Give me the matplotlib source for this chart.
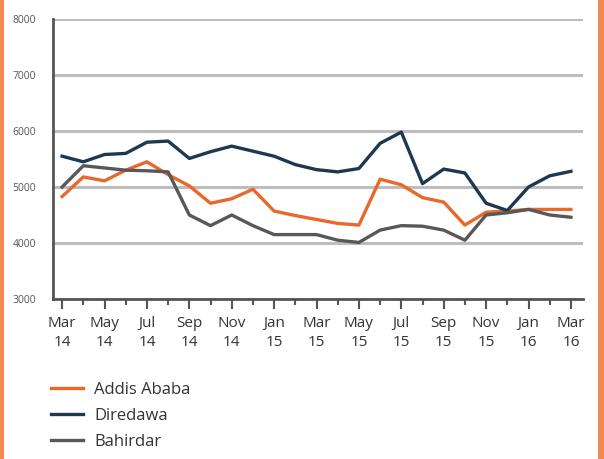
import matplotlib
matplotlib.use("Agg")
import matplotlib.pyplot as plt
from matplotlib.patches import Rectangle
from matplotlib.ticker import FixedLocator

plt.rcParams['font.family'] = ['Open Sans', 'DejaVu Sans']

months = ["Mar\n14", "Apr\n14", "May\n14", "Jun\n14", "Jul\n14", "Aug\n14", "Sep\n14",
          "Oct\n14", "Nov\n14", "Dec\n14", "Jan\n15", "Feb\n15", "Mar\n15", "Apr\n15",
          "May\n15", "Jun\n15", "Jul\n15", "Aug\n15", "Sep\n15", "Oct\n15", "Nov\n15",
          "Dec\n15", "Jan\n16", "Feb\n16", "Mar\n16"]

addis_ababa = [4830, 5180, 5110, 5300, 5450, 5220, 5020, 4710, 4790, 4960, 4570, 4490,
               4420, 4350, 4320, 5140, 5040, 4810, 4730, 4320, 4550, 4570, 4600, 4600, 4600]
diredawa = [5550, 5450, 5580, 5600, 5800, 5820, 5510, 5630, 5730, 5640, 5550, 5400,
            5310, 5270, 5330, 5780, 5980, 5060, 5320, 5250, 4710, 4580, 5000, 5200, 5280]
bahirdar = [5000, 5380, 5340, 5300, 5290, 5270, 4500, 4310, 4500, 4310, 4150, 4150,
            4150, 4050, 4010, 4230, 4310, 4300, 4230, 4050, 4500, 4540, 4600, 4500, 4460]

series = [("Addis Ababa", addis_ababa, "#e8692b"),
          ("Diredawa", diredawa, "#1e3850"),
          ("Bahirdar", bahirdar, "#585858")]

W, H = 604, 459
fig = plt.figure(figsize=(W / 100, H / 100), dpi=100)
fig.patch.set_facecolor("white")

# orange side borders
fig.patches.append(Rectangle((0, 0), 4 / W, 1, transform=fig.transFigure,
                             facecolor="#f28a4f", edgecolor="none"))
fig.patches.append(Rectangle((1 - 6 / W, 0), 6 / W, 1, transform=fig.transFigure,
                             facecolor="#f28a4f", edgecolor="none"))

ax = fig.add_axes([53 / W, (H - 299) / H, 530 / W, 280 / H])
x = list(range(len(months)))
lines = []
for name, vals, col in series:
    ln, = ax.plot(x, vals, color=col, lw=2.4, label=name, solid_joinstyle="round")
    lines.append(ln)

ax.set_ylim(3000, 8000)
ax.set_xlim(-0.43, 24.57)
ax.set_yticks([3000, 4000, 5000, 6000, 7000, 8000])
ax.yaxis.grid(True, color="#bdbdbd", lw=2.2)
ax.set_axisbelow(True)
ax.tick_params(axis="y", length=0, labelsize=7.5, labelcolor="#555555", pad=12)

major = x[::2]
ax.xaxis.set_major_locator(FixedLocator(major))
ax.set_xticklabels([months[i] for i in major])
ax.xaxis.set_minor_locator(FixedLocator(x[1::2]))
ax.tick_params(axis="x", which="major", length=7, width=1.5, color="#555555",
               labelsize=11, labelcolor="#333333", pad=5)
ax.tick_params(axis="x", which="minor", length=4, width=1.5, color="#555555")
for lab in ax.get_xticklabels():
    lab.set_linespacing(1.4)

for s in ["top", "right"]:
    ax.spines[s].set_visible(False)
for s in ["left", "bottom"]:
    ax.spines[s].set_color("#555555")
    ax.spines[s].set_linewidth(2)

fig.legend(handles=lines, loc="upper left", bbox_to_anchor=(36 / W, 1 - 367 / H),
           frameon=False, fontsize=12, handlelength=1.9, handletextpad=0.7,
           labelspacing=0.6, labelcolor="#333333")

fig.savefig("out.png", dpi=100)
